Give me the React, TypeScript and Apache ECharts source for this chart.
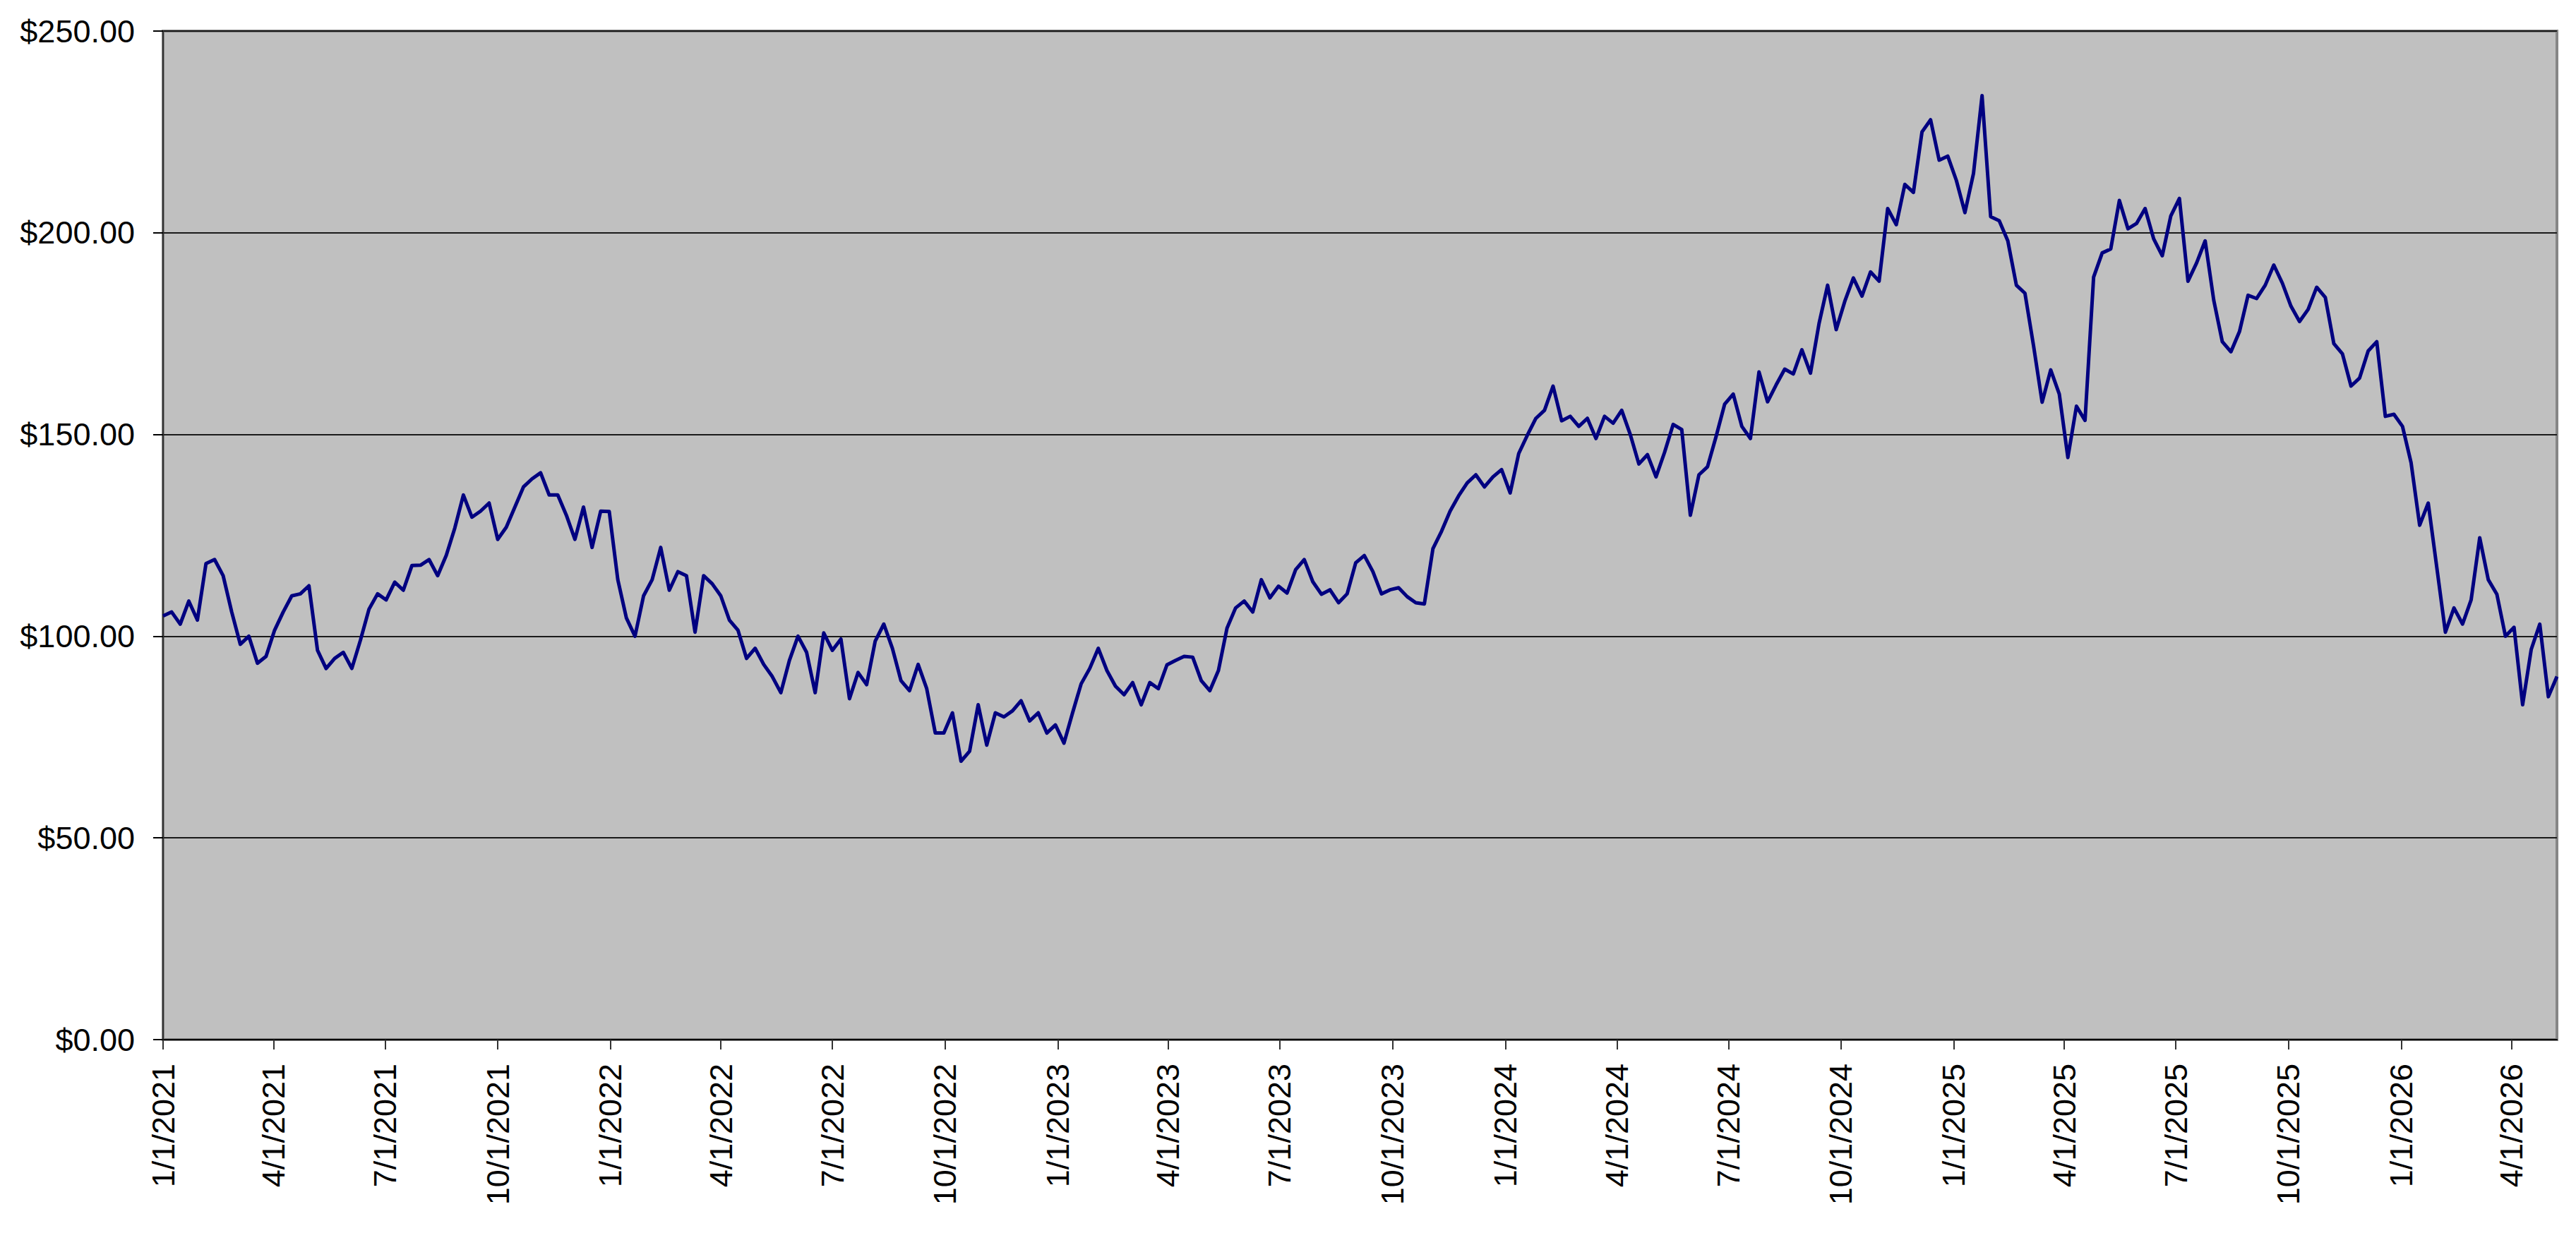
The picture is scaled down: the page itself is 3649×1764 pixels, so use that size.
import React, { useEffect, useRef } from 'react';
import * as echarts from 'echarts';

// ---- data ----
const startDate = '2021-01-01'; // first weekly close
const endDate = '2026-05-08'; // end of the x axis
const stepDays = 7; // weekly closes

const xTickLabels = [
  '1/1/2021', '4/1/2021', '7/1/2021', '10/1/2021',
  '1/1/2022', '4/1/2022', '7/1/2022', '10/1/2022',
  '1/1/2023', '4/1/2023', '7/1/2023', '10/1/2023',
  '1/1/2024', '4/1/2024', '7/1/2024', '10/1/2024',
  '1/1/2025', '4/1/2025', '7/1/2025', '10/1/2025',
  '1/1/2026', '4/1/2026',
];
const yTickValues = [0, 50, 100, 150, 200, 250];

const prices2021 = [
  105, 106, 103, 108.7, 104, 118, 119, 115, 106, 98, 100, 93.3, 95, 101.5, 106, 110, 110.5, 112.5,
  96.5, 92, 94.5, 96, 92, 99, 106.7, 110.5, 109, 113.4, 111.4, 117.5, 117.6, 119, 115, 120, 126.8,
  135, 129.5, 131, 133, 124, 127, 132, 137, 139, 140.5, 135, 135, 130, 124, 132, 122, 131, 130.9,
];
const prices2022 = [
  114, 104.5, 100, 110, 114, 122, 111.4, 116, 115, 101, 115, 113, 110, 104, 101.5, 94.5, 97, 93, 90,
  86, 94, 100, 96, 86, 100.8, 96.5, 99.3, 84.5, 91, 88, 98.8, 103, 97, 89, 86.5, 93, 87, 76, 76, 81,
  69, 71.5, 83, 73, 81, 80, 81.5, 84, 79, 81, 76, 78,
];
const prices2023 = [
  73.5, 81, 88.2, 92, 97, 91.5, 87.6, 85.5, 88.5, 83, 88.5, 87, 92.9, 94, 95, 94.8, 89, 86.5, 91.5,
  102, 107, 108.7, 106, 114, 109.5, 112.4, 110.7, 116.5, 119, 113.5, 110.4, 111.5, 108.3, 110.5,
  118.2, 120, 116, 110.5, 111.5, 112, 109.8, 108.3, 108, 121.7, 126, 131, 134.8, 138, 140, 137,
  139.5, 141.3,
];
const prices2024 = [
  135.5, 145.3, 149.8, 154, 156, 162, 153.4, 154.5, 152, 154, 149, 154.5, 152.8, 156, 150, 142.7,
  145, 139.5, 145.6, 152.5, 151.2, 130, 140, 142, 149.5, 157.5, 160, 152, 149, 165.5, 158.1, 162.3,
  166.2, 165, 171, 165.2, 177.5, 187, 176, 183, 188.8, 184.3, 190.3, 188, 206, 202, 212, 210, 225,
  228, 218, 219,
];
const prices2025 = [
  213, 205, 214.7, 234, 204, 203, 198, 187, 185, 172, 158, 166, 160, 144.3, 157, 153.5, 189, 195,
  196, 208, 201, 202.3, 206, 198.5, 194.3, 204.2, 208.5, 188, 192.5, 198, 183.3, 173, 170.5, 175.5,
  184.5, 183.7, 187, 192, 187.5, 181.8, 178, 181, 186.5, 184, 172.5, 170, 162, 164, 170.7, 173,
  154.5, 155,
];
const prices2026 = [
  152, 143, 127.5, 133, 117, 101, 107, 103, 109, 124.4, 114, 110.4, 100, 102.2, 83, 96.7, 103, 85, 90,
];

// ---- helpers ----
const DAY = 86400000;
const parseISO = (s: string) => {
  const [y, m, d] = s.split('-').map(Number);
  return Date.UTC(y, m - 1, d);
};
const parseUS = (s: string) => {
  const [m, d, y] = s.split('/').map(Number);
  return Date.UTC(y, m - 1, d);
};
const fmtUS = (v: number) => {
  const d = new Date(v);
  return `${d.getUTCMonth() + 1}/${d.getUTCDate()}/${d.getUTCFullYear()}`;
};

const allPrices = [
  ...prices2021, ...prices2022, ...prices2023, ...prices2024, ...prices2025, ...prices2026,
];
const t0 = parseISO(startDate);
const seriesData = allPrices.map((v, i) => [t0 + i * stepDays * DAY, v]);
const xTickValues = xTickLabels.map(parseUS);

const FONT = '"Liberation Sans", Arial, Helvetica, sans-serif';

export default function App() {
  const ref = useRef<HTMLDivElement>(null);
  useEffect(() => {
    if (!ref.current) return;
    const chart = echarts.init(ref.current, null, { renderer: 'svg' });
    chart.setOption({
      animation: false,
      backgroundColor: '#ffffff',
      textStyle: { fontFamily: FONT },
      grid: {
        left: 231,
        right: 27,
        top: 44,
        bottom: 291,
        show: true,
        backgroundColor: '#C0C0C0',
        borderColor: '#868686',
        borderWidth: 4,
      },
      xAxis: {
        type: 'value',
        min: parseISO(startDate),
        max: parseISO(endDate),
        scale: true,
        axisLine: { show: true, onZero: false, lineStyle: { color: '#000', width: 2 } },
        axisTick: {
          show: true,
          length: 14,
          customValues: xTickValues,
          lineStyle: { color: '#333', width: 2 },
        },
        axisLabel: {
          customValues: xTickValues,
          formatter: (v: number) => fmtUS(v),
          rotate: 90,
          margin: 34,
          fontSize: 45,
          color: '#000',
          fontFamily: FONT,
        },
        splitLine: { show: false },
      },
      yAxis: {
        type: 'value',
        min: yTickValues[0],
        max: yTickValues[yTickValues.length - 1],
        interval: 50,
        axisLine: { show: true, lineStyle: { color: '#333', width: 2 } },
        axisTick: { show: true, length: 14, lineStyle: { color: '#000', width: 2 } },
        axisLabel: {
          formatter: (v: number) => '$' + v.toFixed(2),
          margin: 40,
          fontSize: 45,
          color: '#000',
          fontFamily: FONT,
        },
        splitLine: { show: true, lineStyle: { color: '#1a1a1a', width: 2 } },
      },
      series: [
        {
          type: 'line',
          data: seriesData,
          showSymbol: false,
          symbol: 'none',
          lineStyle: { color: '#000080', width: 5, join: 'round' },
          itemStyle: { color: '#000080' },
        },
      ],
    });
    return () => chart.dispose();
  }, []);
  return (
    <div
      ref={ref}
      style={{ position: 'absolute', left: 0, top: 0, width: 3649, height: 1764, background: '#fff' }}
    />
  );
}
